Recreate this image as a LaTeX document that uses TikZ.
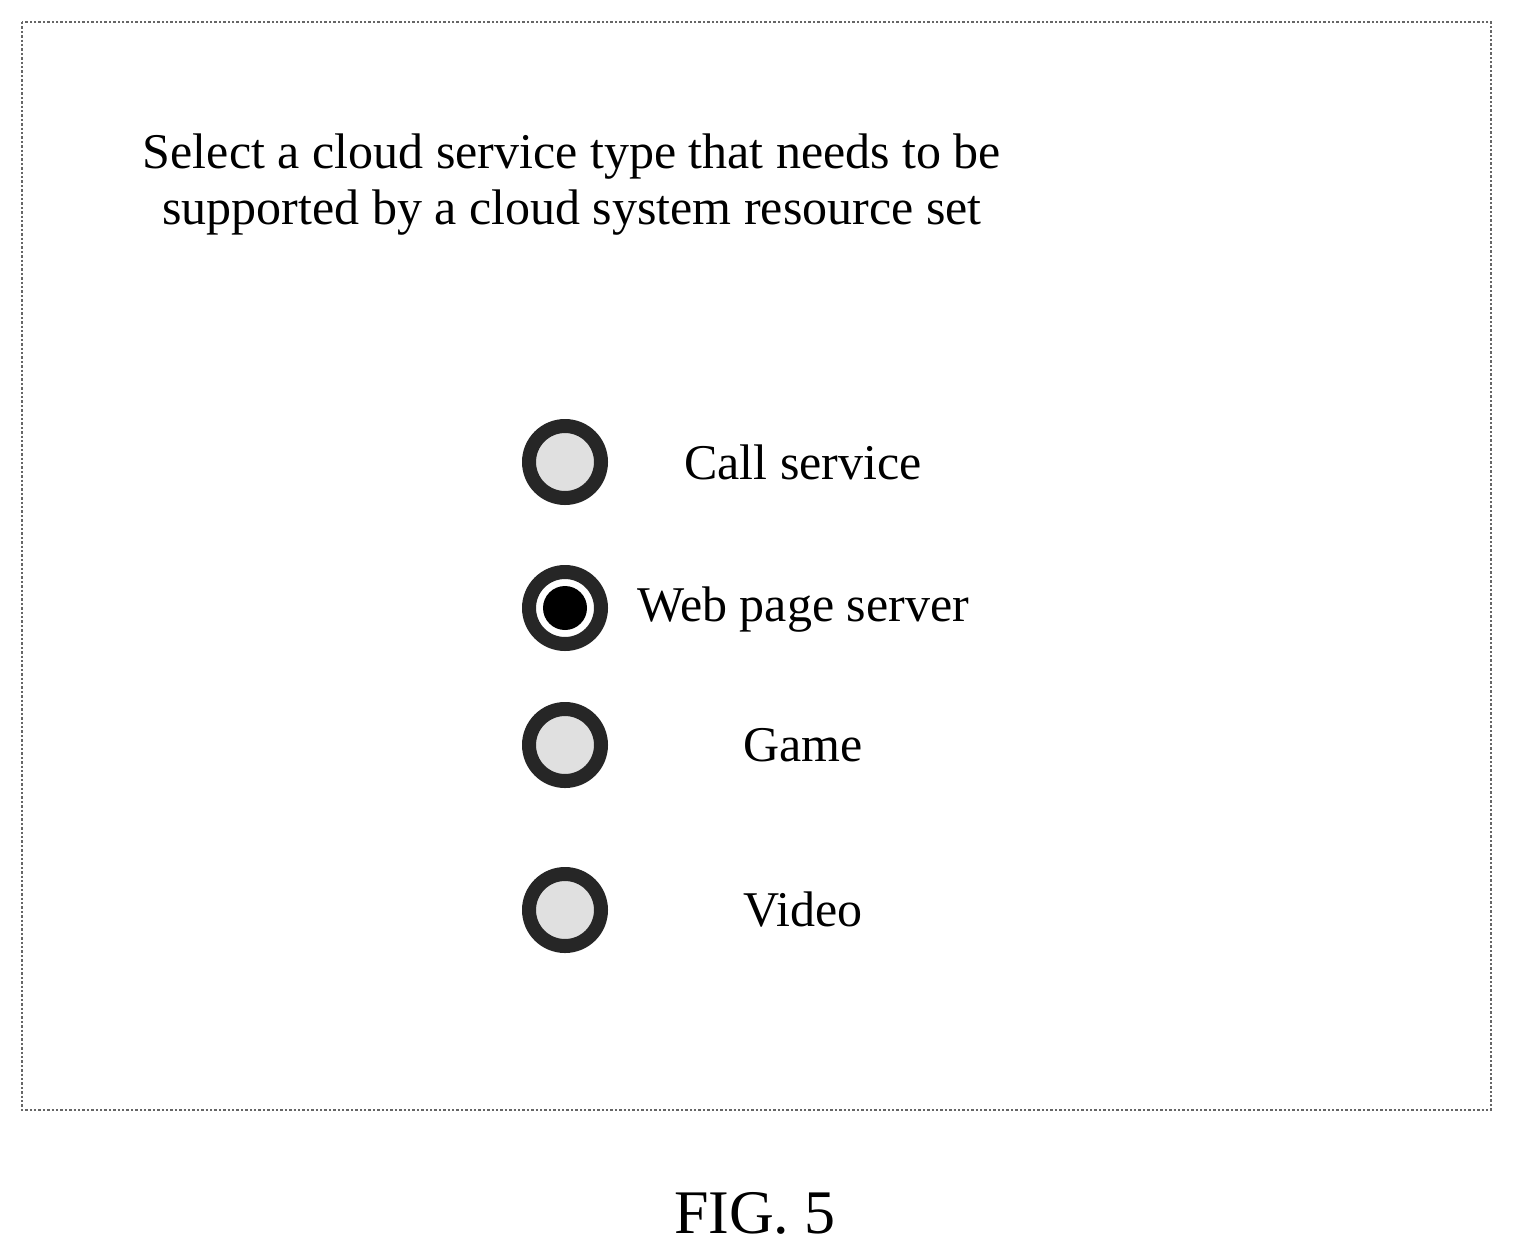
\documentclass[tikz,border=0pt]{standalone}
\usepackage{fontspec}
\setmainfont{Liberation Serif}
\usetikzlibrary{positioning}
\tikzset{
  radio/.style={circle,draw=black!85,line width=7pt,minimum size=36pt,fill=black!12,inner sep=0pt},% Auswahlknopf
  picked/.style={radio,fill=white,path picture={\fill[black] (path picture bounding box.center) circle (11pt);}},
  option/.style={font=\fontsize{25}{28}\selectfont}
}
\begin{document}
\begin{tikzpicture}[x=0.5pt,y=-0.5pt]
\useasboundingbox (0,0) rectangle (1513,1254);
%Rahmen
\draw[black!60,densely dotted,line width=1.2pt] (22,22) rectangle (1491,1110);
%Titel
\node[option,align=center] (Titel) at (572,185)
  {Select a cloud service type that needs to be\\supported by a cloud system resource set};
%Optionen
\node[radio] (R1) at (565,462) {};
\node[picked] (R2) at (565,608) {};
\node[radio] (R3) at (565,745) {};
\node[radio] (R4) at (565,910) {};
\node[option] (L1) at (803,462) {Call service};
\node[option] (L2) at (803,610) {Web page server};
\node[option] (L3) at (803,745) {Game};
\node[option] (L4) at (803,910) {Video};
%Bildunterschrift
\node[font=\fontsize{31}{34}\selectfont] (Fig) at (755,1213) {FIG. 5};
\end{tikzpicture}
\end{document}
